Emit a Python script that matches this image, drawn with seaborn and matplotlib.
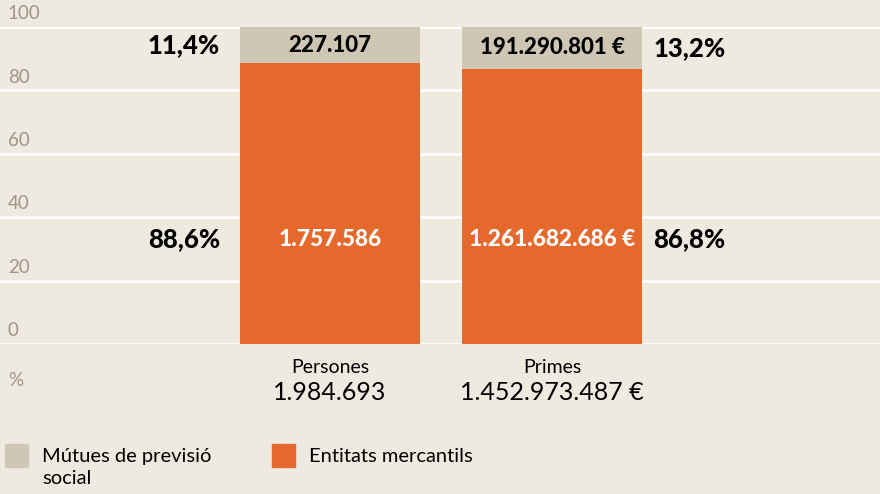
import matplotlib
matplotlib.use("Agg")
import matplotlib.pyplot as plt
import matplotlib.patches as mpatches
import seaborn as sns

# Data
categories = ['Persones', 'Primes']
totals = ['1.984.693', '1.452.973.487 €']
mutues_pct = [11.4, 13.2]
mercantils_pct = [88.6, 86.8]
mutues_val = ['227.107', '191.290.801 €']
mercantils_val = ['1.757.586', '1.261.682.686 €']
pct_labels_mutues = ['11,4%', '13,2%']
pct_labels_merc = ['88,6%', '86,8%']
yticks = [0, 20, 40, 60, 80, 100]
legend_labels = ['Mútues de previsió\nsocial', 'Entitats mercantils']

bg = '#eeeae0'
orange = '#e5692d'
grey = '#cfc6b4'
tick_col = '#a39288'

sns.set_style('white')
plt.rcParams['font.family'] = ['Lato', 'DejaVu Sans']

fig = plt.figure(figsize=(8.8, 4.94), dpi=100)
fig.patch.set_facecolor(bg)
ax = fig.add_axes([0, (494 - 344) / 494, 1, 317 / 494])
ax.set_facecolor(bg)

full = [m + e for m, e in zip(mutues_pct, mercantils_pct)]
sns.barplot(x=categories, y=full, color=grey, width=0.81, saturation=1, ax=ax,
            zorder=3, linewidth=0, edgecolor='none')
sns.barplot(x=categories, y=mercantils_pct, color=orange, width=0.81, saturation=1, ax=ax,
            zorder=4, linewidth=0, edgecolor='none')

ax.set_xlim(-1.486, 2.477)
ax.set_ylim(0, 100)
ax.set_yticks(yticks)
ax.set_xticks([])
ax.set_yticklabels([])
ax.tick_params(left=False, bottom=False)
ax.grid(axis='y', color='white', linewidth=2, zorder=1)
ax.set_axisbelow(True)
for s in ax.spines.values():
    s.set_visible(False)
ax.set_xlabel('')
ax.set_ylabel('')

# y tick labels above the gridlines
for t in yticks:
    ax.text(0.009, t + 4.2, str(t), transform=ax.get_yaxis_transform(),
            ha='left', va='center', fontsize=13.5, color=tick_col, clip_on=False)
ax.text(0.009, -11.5, '%', transform=ax.get_yaxis_transform(), ha='left',
        va='center', fontsize=13.5, color=tick_col, clip_on=False)

half = 0.405
for i, cat in enumerate(categories):
    top_mid = mercantils_pct[i] + mutues_pct[i] / 2
    ax.text(i, top_mid, mutues_val[i], ha='center', va='center',
            fontsize=16, fontweight='black', color='black', zorder=5)
    ax.text(i, 33, mercantils_val[i], ha='center', va='center',
            fontsize=16.3, fontweight='black', color='white', zorder=5)
    if i == 0:
        xp, ha = i - half - 0.09, 'right'
    else:
        xp, ha = i + half + 0.05, 'left'
    ax.text(xp, top_mid, pct_labels_mutues[i], ha=ha, va='center',
            fontsize=18.5, fontweight='black', color='black')
    ax.text(xp, 33, pct_labels_merc[i], ha=ha, va='center',
            fontsize=18.5, fontweight='black', color='black')
    ax.text(i, -7.3, cat, ha='center', va='center', fontsize=14,
            color='black', clip_on=False)
    ax.text(i, -15.2, totals[i], ha='center', va='center', fontsize=18,
            color='black', clip_on=False)

# legend
for x0, col, lab in zip([5, 272], [grey, orange], legend_labels):
    fig.add_artist(mpatches.Rectangle((x0 / 880, (494 - 467) / 494), 23 / 880, 23 / 494,
                                      transform=fig.transFigure, color=col))
    fig.text((x0 + 37) / 880, (494 - 448) / 494, lab, ha='left', va='top',
             fontsize=14.5, color='black', linespacing=1.35)

fig.savefig('out.png', dpi=100, facecolor=bg)
